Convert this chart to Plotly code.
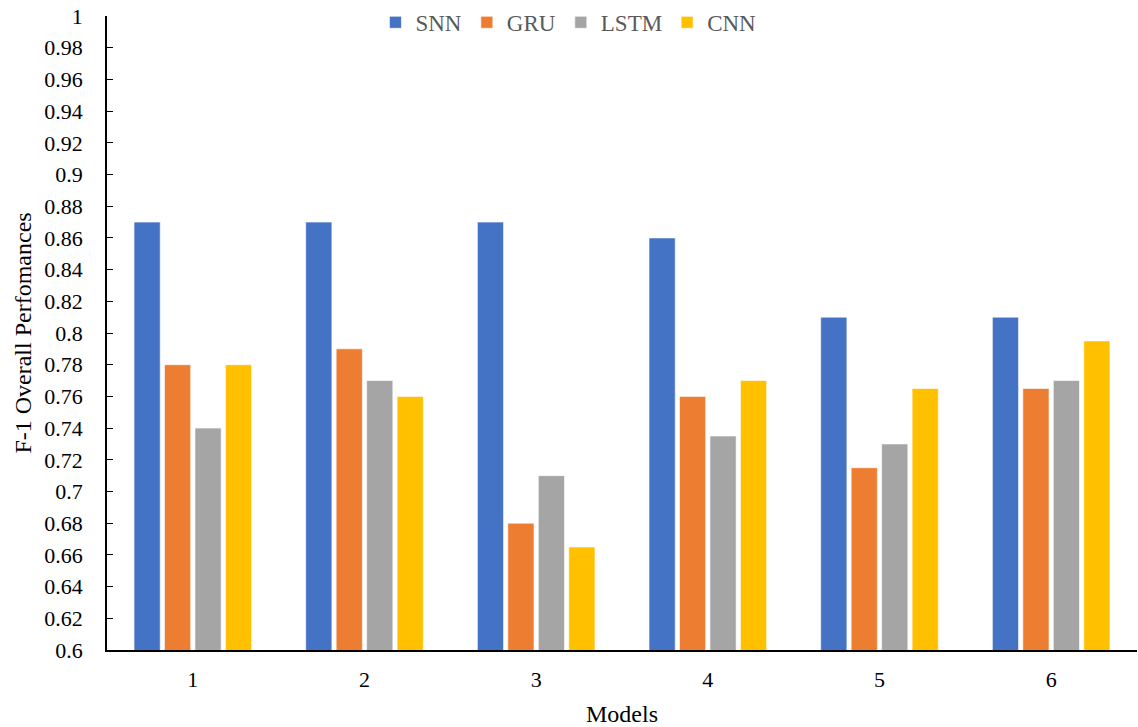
import plotly.graph_objects as go

models = ["1", "2", "3", "4", "5", "6"]
snn = [0.87, 0.87, 0.87, 0.86, 0.81, 0.81]
gru = [0.78, 0.79, 0.68, 0.76, 0.715, 0.765]
lstm = [0.74, 0.77, 0.71, 0.735, 0.73, 0.77]
cnn = [0.78, 0.76, 0.665, 0.77, 0.765, 0.795]

series = [
    ("SNN", snn, "#4472C4"),
    ("GRU", gru, "#ED7D31"),
    ("LSTM", lstm, "#A5A5A5"),
    ("CNN", cnn, "#FFC000"),
]

y_ticks = [round(0.6 + 0.02 * i, 2) for i in range(21)]
y_labels = [("%.2f" % v).rstrip("0").rstrip(".") for v in y_ticks]

fig = go.Figure()
for name, vals, color in series:
    fig.add_trace(go.Bar(
        x=models, y=vals, name=name,
        marker=dict(color=color, line=dict(color="rgba(255,255,255,0.6)", width=1)),
    ))

serif = "Liberation Serif, Times New Roman, serif"
fig.update_layout(
    width=1138, height=727,
    margin=dict(l=107, r=1, t=16, b=77, autoexpand=False),
    paper_bgcolor="white", plot_bgcolor="white",
    barmode="group", bargap=0.29, bargroupgap=0.14,
    font=dict(family=serif, size=22, color="black"),
    legend=dict(
        orientation="h", x=0.448, xanchor="center",
        y=0.99, yanchor="middle",
        font=dict(family=serif, size=23, color="#595959"),
        bgcolor="rgba(0,0,0,0)", itemwidth=30, tracegroupgap=0,
    ),
    xaxis=dict(
        showline=True, linecolor="black", linewidth=1.5,
        ticks="", showgrid=False,
        tickfont=dict(size=22), ticklabelstandoff=9,
        title=dict(text="Models", font=dict(size=24), standoff=16),
    ),
    yaxis=dict(
        range=[0.6, 1.0], tickvals=y_ticks, ticktext=y_labels,
        showline=True, linecolor="black", linewidth=1.5,
        ticks="inside", ticklen=6, tickcolor="black",
        showgrid=False, zeroline=False,
        tickfont=dict(size=22), ticklabelstandoff=18,
        title=dict(text="F-1 Overall Perfomances", font=dict(size=24), standoff=6),
    ),
)

fig.write_html("out.html")
